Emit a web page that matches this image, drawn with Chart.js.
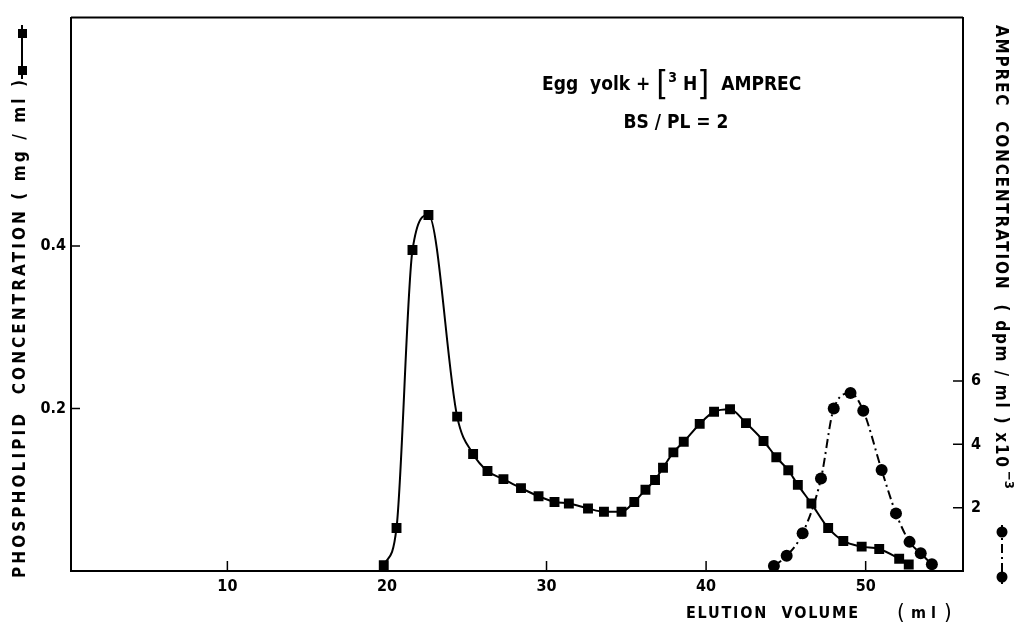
<!DOCTYPE html>
<html>
<head>
<meta charset="utf-8">
<script src="https://cdn.jsdelivr.net/npm/chart.js@4"></script>
<style>
  html, body { margin: 0; padding: 0; background: #fff; }
  canvas { display: block; }
</style>
</head>
<body>
<canvas id="grafico" width="1019" height="634"></canvas>
<script>
// Valores
const plVolume = [19.8, 20.6, 21.6, 22.6, 24.4, 25.4, 26.3, 27.3, 28.4, 29.5, 30.5, 31.4, 32.6, 33.6, 34.7, 35.5, 36.2, 36.8, 37.3, 37.95, 38.6, 39.6, 40.5, 41.5, 42.5, 43.6, 44.4, 45.15, 45.75, 46.6, 47.65, 48.6, 49.75, 50.85, 52.1, 52.7];
const plConc = [0.007, 0.053, 0.395, 0.438, 0.190, 0.144, 0.123, 0.113, 0.102, 0.092, 0.085, 0.083, 0.077, 0.073, 0.073, 0.085, 0.100, 0.112, 0.127, 0.146, 0.159, 0.181, 0.196, 0.199, 0.182, 0.160, 0.140, 0.124, 0.106, 0.083, 0.053, 0.037, 0.030, 0.027, 0.015, 0.008];

const ampVolume = [44.25, 45.05, 46.05, 47.2, 48.0, 49.05, 49.85, 51.0, 51.9, 52.75, 53.45, 54.15];
const ampConc = [0.16, 0.48, 1.19, 2.92, 5.13, 5.62, 5.06, 3.19, 1.82, 0.92, 0.56, 0.21];

const xTicks = [10, 20, 30, 40, 50];
const plTicks = [0.2, 0.4];
const ampTicks = [2, 4, 6];

const FONTE = "'Liberation Sans Narrow', 'DejaVu Sans Condensed', 'Liberation Sans', sans-serif";

// escreve texto ajustando o espaçamento para caber no comprimento pedido
function textoEspacado(ctx, texto, comprimento) {
    ctx.letterSpacing = '0px';
    const w = ctx.measureText(texto).width;
    const esp = Math.max(0, (comprimento - w) / (texto.length - 1));
    ctx.letterSpacing = esp + 'px';
    ctx.fillText(texto, 0, 0);
    ctx.letterSpacing = '0px';
}

const textosExtras = {
    id: 'textosExtras',
    afterDraw(chart) {
        const ctx = chart.ctx;
        const area = chart.chartArea;
        const sx = chart.scales.x, sy = chart.scales.y, sy1 = chart.scales.y1;
        ctx.save();
        ctx.strokeStyle = '#000';
        ctx.fillStyle = '#000';

        // moldura superior e traços internos
        ctx.lineWidth = 2;
        ctx.beginPath();
        ctx.moveTo(area.left, area.top);
        ctx.lineTo(area.right, area.top);
        ctx.stroke();
        ctx.lineWidth = 1.5;
        ctx.beginPath();
        xTicks.forEach(v => {
            const px = sx.getPixelForValue(v);
            ctx.moveTo(px, area.bottom);
            ctx.lineTo(px, area.bottom - 10);
        });
        plTicks.forEach(v => {
            const py = sy.getPixelForValue(v);
            ctx.moveTo(area.left, py);
            ctx.lineTo(area.left + 9, py);
        });
        ampTicks.forEach(v => {
            const py = sy1.getPixelForValue(v);
            ctx.moveTo(area.right, py);
            ctx.lineTo(area.right - 10, py);
        });
        ctx.stroke();

        // título
        const principal = 'bold 19px ' + FONTE;
        const colchete = '34px ' + FONTE;
        const sobrescrito = 'bold 14px ' + FONTE;
        const partes = [
            { t: 'Egg  yolk + ', f: principal, dy: 0 },
            { t: '[', f: colchete, dy: 1 },
            { t: '3', f: sobrescrito, dy: -7 },
            { t: ' H', f: principal, dy: 0 },
            { t: ']', f: colchete, dy: 1 },
            { t: '  AMPREC', f: principal, dy: 0 }
        ];
        let x = 542;
        ctx.textBaseline = 'middle';
        ctx.textAlign = 'left';
        partes.forEach(p => {
            ctx.font = p.f;
            ctx.fillText(p.t, x, 85 + p.dy);
            x += ctx.measureText(p.t).width;
        });
        ctx.font = principal;
        ctx.textAlign = 'center';
        ctx.fillText('BS / PL = 2', 676, 123);

        // título do eixo x
        ctx.font = 'bold 16px ' + FONTE;
        ctx.textAlign = 'left';
        ctx.save();
        ctx.translate(686, 614);
        textoEspacado(ctx, 'ELUTION  VOLUME', 172);
        ctx.restore();
        ctx.font = '22px ' + FONTE;
        ctx.fillText('(', 897, 613);
        ctx.fillText(')', 944, 613);
        ctx.font = 'bold 16px ' + FONTE;
        ctx.fillText('m l', 911, 614);

        // título do eixo esquerdo
        ctx.font = 'bold 17px ' + FONTE;
        ctx.save();
        ctx.translate(21, 578);
        ctx.rotate(-Math.PI / 2);
        textoEspacado(ctx, 'PHOSPHOLIPID  CONCENTRATION ( mg / ml )', 498);
        ctx.restore();
        // marcador da série de fosfolipídio
        ctx.lineWidth = 2;
        ctx.beginPath();
        ctx.moveTo(22, 25);
        ctx.lineTo(22, 79);
        ctx.stroke();
        [33, 70].forEach(py => ctx.fillRect(18, py - 4, 9, 9));

        // título do eixo direito
        ctx.save();
        ctx.translate(1000, 25);
        ctx.rotate(Math.PI / 2);
        ctx.font = 'bold 17px ' + FONTE;
        textoEspacado(ctx, 'AMPREC  CONCENTRATION  ( dpm / ml ) x10', 442);
        ctx.font = 'bold 13px ' + FONTE;
        ctx.fillText('\u22123', 446, -8);
        ctx.restore();
        // marcador da série AMPREC
        ctx.setLineDash([9, 4, 2, 4]);
        ctx.beginPath();
        ctx.moveTo(1002, 525);
        ctx.lineTo(1002, 584);
        ctx.stroke();
        ctx.setLineDash([]);
        [532, 577].forEach(py => {
            ctx.beginPath();
            ctx.arc(1002, py, 5.5, 0, Math.PI * 2);
            ctx.fill();
        });
        ctx.restore();
    }
};

function criarGrafico() {
    const ctx = document.getElementById('grafico').getContext('2d');
    new Chart(ctx, {
        type: 'scatter',
        data: {
            datasets: [{
                label: 'Phospholipid',
                data: plVolume.map((v, i) => ({ x: v, y: plConc[i] })),
                yAxisID: 'y',
                showLine: true,
                borderColor: '#000',
                backgroundColor: '#000',
                borderWidth: 2,
                pointStyle: 'rect',
                pointRadius: 7,
                pointBorderWidth: 0,
                cubicInterpolationMode: 'monotone'
            }, {
                label: 'AMPREC',
                data: ampVolume.map((v, i) => ({ x: v, y: ampConc[i] })),
                yAxisID: 'y1',
                showLine: true,
                borderColor: '#000',
                backgroundColor: '#000',
                borderWidth: 2,
                borderDash: [9, 4, 2, 4],
                pointStyle: 'circle',
                pointRadius: 6,
                pointBorderWidth: 0,
                cubicInterpolationMode: 'monotone'
            }]
        },
        options: {
            responsive: false,
            animation: false,
            devicePixelRatio: 1,
            layout: { padding: { top: 16, left: 0, right: 0, bottom: 0 } },
            plugins: {
                legend: { display: false },
                tooltip: { enabled: false }
            },
            scales: {
                x: {
                    type: 'linear',
                    position: 'bottom',
                    min: 0.2,
                    max: 56.1,
                    afterBuildTicks: s => { s.ticks = xTicks.map(v => ({ value: v })); },
                    afterFit: s => { s.height = 63; },
                    grid: { display: false, drawTicks: false },
                    border: { display: true, color: '#000', width: 2 },
                    ticks: {
                        color: '#000',
                        padding: 6,
                        maxRotation: 0,
                        font: { family: FONTE, size: 16, weight: 'bold' }
                    }
                },
                y: {
                    position: 'left',
                    min: 0,
                    max: 0.681,
                    afterBuildTicks: s => { s.ticks = plTicks.map(v => ({ value: v })); },
                    afterFit: s => { s.width = 71; },
                    grid: { display: false, drawTicks: false },
                    border: { display: true, color: '#000', width: 2 },
                    ticks: {
                        color: '#000',
                        padding: 5,
                        callback: v => v.toFixed(1),
                        font: { family: FONTE, size: 16, weight: 'bold' }
                    }
                },
                y1: {
                    position: 'right',
                    min: 0,
                    max: 17.48,
                    afterBuildTicks: s => { s.ticks = ampTicks.map(v => ({ value: v })); },
                    afterFit: s => { s.width = 56; },
                    grid: { display: false, drawTicks: false },
                    border: { display: true, color: '#000', width: 2 },
                    ticks: {
                        color: '#000',
                        padding: 8,
                        font: { family: FONTE, size: 16, weight: 'bold' }
                    }
                }
            }
        },
        plugins: [textosExtras]
    });
}

criarGrafico();
</script>
</body>
</html>
